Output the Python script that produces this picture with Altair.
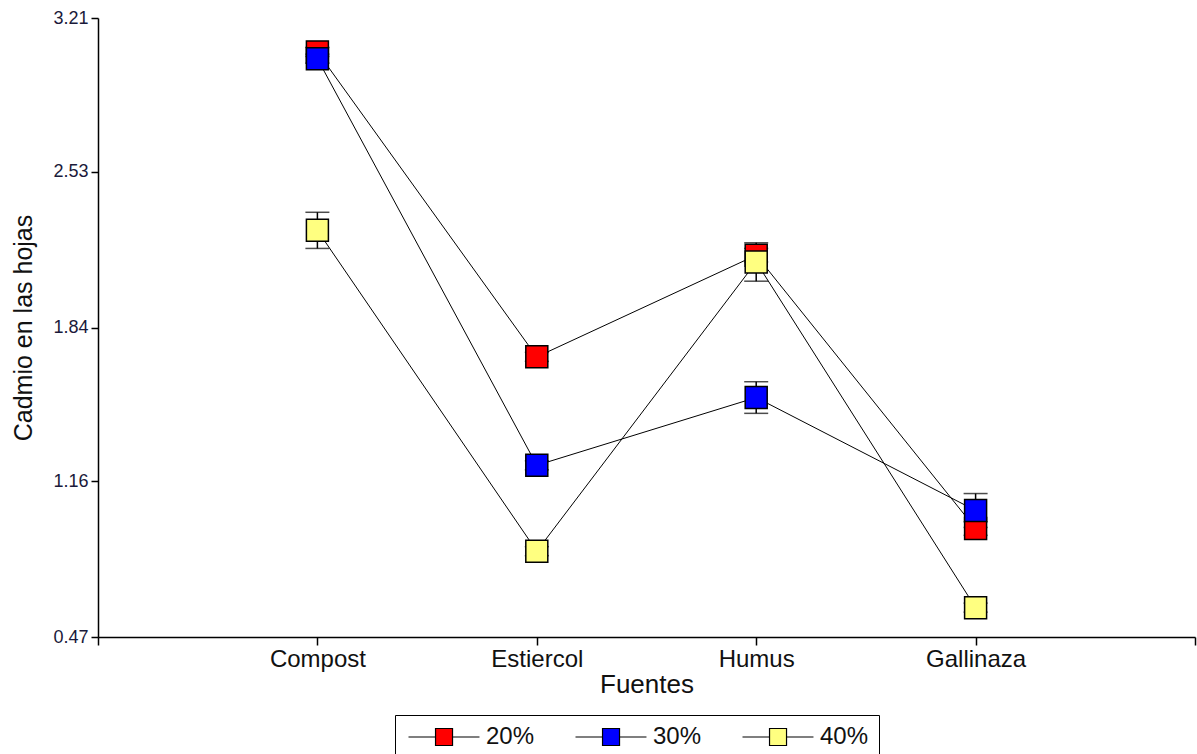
import altair as alt
import pandas as pd

# Cadmium content in leaves by organic source and dose
fuentes = ["Compost", "Estiercol", "Humus", "Gallinaza"]
dosis = ["20%", "30%", "40%"]

cadmio_20 = [3.06, 1.71, 2.16, 0.95]
cadmio_30 = [3.03, 1.23, 1.53, 1.03]
cadmio_40 = [2.27, 0.85, 2.13, 0.60]

error_20 = [0.02, 0.02, 0.03, 0.03]
error_30 = [0.02, 0.02, 0.07, 0.075]
error_40 = [0.08, 0.02, 0.085, 0.02]

y_ticks = [0.47, 1.16, 1.84, 2.53, 3.21]
colores = ["#FF0000", "#0000FF", "#FFFF80"]

rows = []
for serie, vals, errs in zip(dosis, [cadmio_20, cadmio_30, cadmio_40], [error_20, error_30, error_40]):
    for i, (f, v, e) in enumerate(zip(fuentes, vals, errs)):
        rows.append({"fuente": f, "pos": i + 1, "dosis": serie, "cadmio": v,
                     "lo": v - e, "hi": v + e})
df = pd.DataFrame(rows)

label_expr = "['', " + ", ".join(f"'{f}'" for f in fuentes) + ", ''][datum.value]"

x_enc = alt.X("pos:Q", scale=alt.Scale(domain=[0, 5], nice=False, zero=False),
              axis=alt.Axis(values=[0, 1, 2, 3, 4, 5], labelExpr=label_expr,
                            title="Fuentes", labelFontSize=24, titleFontSize=26,
                            titleFontWeight="normal", labelPadding=2, titlePadding=0,
                            tickSize=8, labelColor="#111", titleColor="#111"))
y_scale = alt.Scale(domain=[0.47, 3.21], nice=False, zero=False)
y_axis = alt.Axis(values=y_ticks, format=".2f", title="Cadmio en las hojas",
                  labelFontSize=18, titleFontSize=25, titleFontWeight="normal",
                  tickSize=7, labelPadding=3, titlePadding=16,
                  labelColor="#1a1a3a", titleColor="#111")

base = alt.Chart(df)

lines = base.mark_line(color="black", strokeWidth=1).encode(
    x=x_enc,
    y=alt.Y("cadmio:Q", scale=y_scale, axis=y_axis),
    detail="dosis:N",
    order="pos:Q",
)

bars = base.mark_rule(color="black", strokeWidth=1.5).encode(
    x="pos:Q", y="lo:Q", y2="hi:Q"
)
cap_hi = base.mark_tick(color="black", orient="horizontal", size=24, thickness=1.5).encode(
    x="pos:Q", y="hi:Q"
)
cap_lo = base.mark_tick(color="black", orient="horizontal", size=24, thickness=1.5).encode(
    x="pos:Q", y="lo:Q"
)

# legend glyph: a short line with the square sitting in its middle
legend_symbol = "M-1,0H2.18M4.18,0H7.35M2.18,-1H4.18V1H2.18Z"

points = base.mark_point(shape="square", size=484, filled=True, stroke="black",
                         strokeWidth=1.5, opacity=1).encode(
    x="pos:Q",
    y="cadmio:Q",
    fill=alt.Fill("dosis:N", scale=alt.Scale(domain=dosis, range=colores),
                  legend=alt.Legend(title=None, orient="none", direction="horizontal",
                                    columns=3, legendX=297, legendY=697,
                                    symbolType=legend_symbol, symbolSize=289,
                                    symbolStrokeColor="black", symbolStrokeWidth=1.2,
                                    symbolOpacity=1,
                                    labelFontSize=24, labelColor="#111",
                                    labelOffset=57, columnPadding=37,
                                    labelExpr="datum.label == '40%' ? datum.label + '\u00a0\u00a0\u00a0\u00a0' : datum.label",
                                    strokeColor="black", fillColor="white",
                                    padding=10)),
)

chart = alt.layer(lines, bars, cap_hi, cap_lo, points).properties(
    width=1097, height=619,
    padding={"left": 98, "top": 18, "right": 2, "bottom": 117},
    autosize=alt.AutoSizeParams(type="none"),
    background="white",
).configure_view(stroke=None).configure_axis(
    domainColor="black", domainWidth=1.5, tickColor="black", tickWidth=1.5,
    grid=False, labelFont="Liberation Sans", titleFont="Liberation Sans",
).configure_legend(labelFont="Liberation Sans")

chart.save("out.html", embed_options={"renderer": "svg", "actions": False})
